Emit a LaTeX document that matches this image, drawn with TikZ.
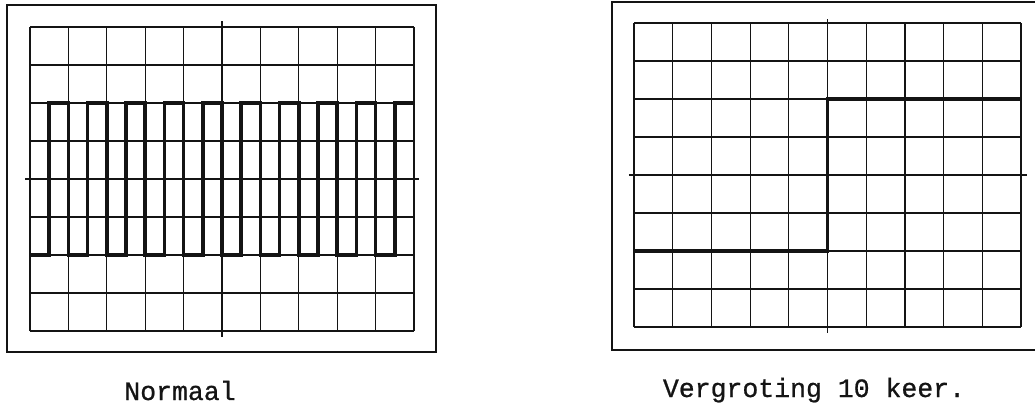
\documentclass[tikz,border=0pt]{standalone}
\usepackage{fontspec}
\newfontfamily\capfont{Liberation Mono}[FakeBold=0.8]
\usetikzlibrary{positioning}
\definecolor{ink}{HTML}{141414}

\begin{document}
\begin{tikzpicture}[
  x=1pt, y=-1pt,
  frame/.style={draw=ink, line width=1.3pt},
  gridline/.style={draw=ink, line width=1.2pt},
  trace/.style={draw=ink, line width=3.6pt, line join=miter},
  caption/.style={font=\fontsize{26.5}{30}\capfont, text=ink, anchor=base, inner sep=0pt}
]

% page size of the reference
\clip (0,0) rectangle (1035,409);

% Left screen: normal
\draw[frame] (7,5) rectangle (436,352);
\begin{scope}[shift={(30,331)}, x=38.4pt, y=38pt]
  \foreach \i in {0,...,10} \draw[gridline] (\i,0) -- (\i,8);
  \foreach \j in {0,...,8} \draw[gridline] (0,\j) -- (10,\j);
  % centre axes
  \draw[gridline] (-0.13,4) -- (10.13,4);
  \draw[gridline] (5,-0.15) -- (5,8.15);
  % square wave
  \draw[trace] (0,2) \foreach \k in {0,...,8} { -- (\k+.5,2) -- (\k+.5,6) -- (\k+1,6) -- (\k+1,2) }
    -- (9.5,2) -- (9.5,6) -- (10,6);
\end{scope}

% Right screen: magnified
\draw[frame] (612,2) rectangle (1045,350);
\begin{scope}[shift={(634,327)}, x=38.7pt, y=38pt]
  \foreach \i in {0,...,10} \draw[gridline] (\i,0) -- (\i,8);
  \foreach \j in {0,...,8} \draw[gridline] (0,\j) -- (10,\j);
  % centre axes
  \draw[gridline] (-0.13,4) -- (10.15,4);
  \draw[gridline] (5,-0.15) -- (5,8.1);
  % one edge
  \draw[trace] (0,2) -- (5,2) -- (5,6) -- (10,6);
\end{scope}

% Captions
\node[caption] (normaal) at (180,400) {Normaal};
\node[caption] (vergroting) at (814,397) {Vergroting 10 keer.};

\end{tikzpicture}
\end{document}
